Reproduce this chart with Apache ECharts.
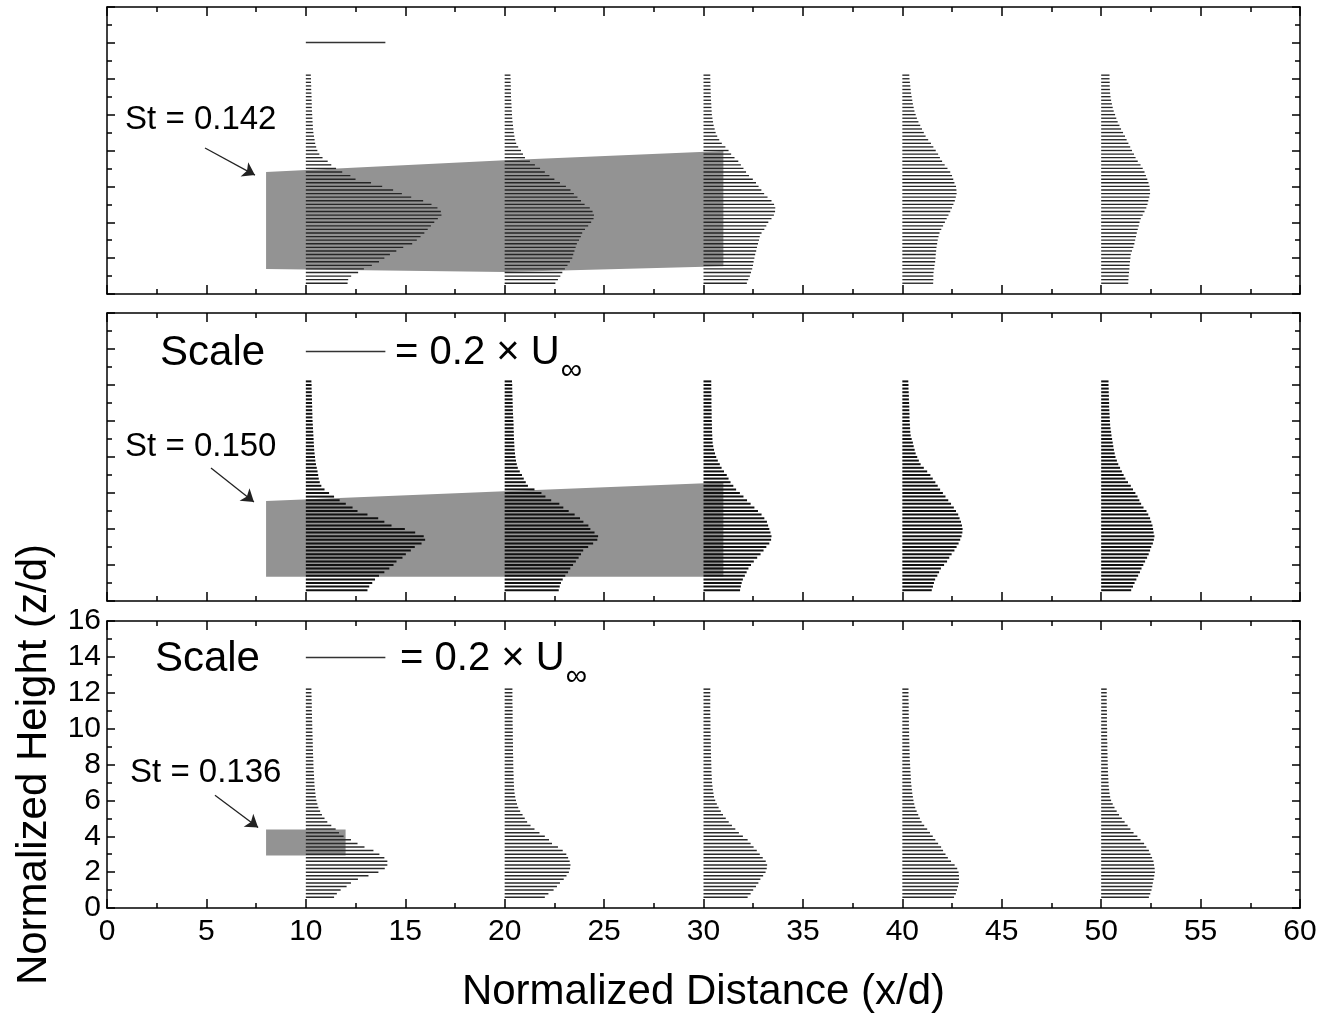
<!DOCTYPE html>
<html><head><meta charset="utf-8">
<script src="https://cdn.jsdelivr.net/npm/echarts@6/dist/echarts.min.js"></script>
<style>html,body{margin:0;padding:0;background:#fff}#chart{width:1325px;height:1014px}</style>
</head><body><div id="chart"></div>
<script>
// ---------------- DATA ----------------
const zLevels = [0.6,0.8,1.0,1.2,1.4,1.6,1.8,2.0,2.2,2.4,2.6,2.8,3.0,3.2,3.4,3.6,3.8,4.0,4.2,4.4,
  4.6,4.8,5.0,5.2,5.4,5.6,5.8,6.0,6.2,6.4,6.6,6.8,7.0,7.2,7.4,7.6,7.8,8.0,8.2,8.4,
  8.6,8.8,9.0,9.2,9.4,9.6,9.8,10.0,10.2,10.4,10.6,10.8,11.0,11.2,11.4,11.6,11.8,12.0,12.2];
const stations = [10,20,30,40,50];

// profile lengths in x/d units (scale: 4 x/d = 0.2 U_inf), ordered by zLevels
const top_x10 = [2.10,2.13,2.28,2.63,2.92,3.32,3.68,3.95,4.23,4.55,4.90,5.35,5.58,5.77,5.96,6.13,6.29,6.46,6.64,6.82,
  6.79,6.62,6.32,5.90,5.30,4.83,4.39,3.84,3.28,2.50,2.24,1.83,1.52,1.28,1.10,0.84,0.68,0.58,0.52,0.47,
  0.44,0.41,0.38,0.36,0.35,0.34,0.33,0.32,0.31,0.30,0.30,0.29,0.29,0.28,0.27,0.27,0.26,0.26,0.25];
const top_x20 = [2.55,2.68,2.80,2.90,3.03,3.16,3.28,3.40,3.45,3.51,3.57,3.63,3.74,3.83,3.90,4.04,4.20,4.35,4.47,4.49,
  4.42,4.28,4.02,3.84,3.66,3.48,3.31,3.08,2.78,2.50,2.25,2.02,1.78,1.52,1.27,1.02,0.92,0.82,0.68,0.58,
  0.53,0.49,0.46,0.44,0.42,0.40,0.38,0.37,0.36,0.35,0.34,0.33,0.32,0.32,0.31,0.31,0.30,0.30,0.29];
const top_x30 = [2.18,2.25,2.33,2.39,2.45,2.49,2.52,2.56,2.60,2.65,2.69,2.74,2.79,2.83,2.92,3.06,3.16,3.26,3.42,3.54,
  3.60,3.61,3.55,3.42,3.22,3.05,2.91,2.77,2.64,2.48,2.29,2.14,2.01,1.88,1.75,1.56,1.39,1.26,1.10,0.92,
  0.79,0.69,0.61,0.56,0.51,0.48,0.45,0.42,0.41,0.40,0.39,0.38,0.37,0.36,0.36,0.35,0.35,0.34,0.34];
const top_x40 = [1.55,1.56,1.56,1.57,1.60,1.62,1.65,1.67,1.68,1.70,1.72,1.75,1.78,1.82,1.87,1.96,2.05,2.14,2.23,2.32,
  2.41,2.50,2.57,2.64,2.69,2.73,2.72,2.70,2.62,2.56,2.50,2.41,2.27,2.13,2.00,1.89,1.80,1.68,1.56,1.44,
  1.30,1.17,1.08,0.99,0.90,0.81,0.73,0.67,0.61,0.57,0.53,0.50,0.47,0.44,0.42,0.40,0.38,0.36,0.35];
const top_x50 = [1.36,1.37,1.38,1.40,1.42,1.43,1.45,1.47,1.49,1.55,1.62,1.67,1.71,1.75,1.79,1.84,1.89,1.93,1.99,2.09,
  2.18,2.27,2.33,2.37,2.42,2.46,2.45,2.43,2.38,2.32,2.25,2.18,2.09,1.98,1.84,1.73,1.65,1.55,1.46,1.37,
  1.28,1.20,1.10,1.00,0.92,0.83,0.76,0.70,0.63,0.58,0.54,0.50,0.47,0.45,0.44,0.43,0.43,0.42,0.42];

const mid_x10 = [3.10,3.19,3.34,3.48,3.68,3.95,4.20,4.41,4.56,4.86,5.03,5.28,5.48,5.82,6.00,5.93,5.50,4.98,4.31,3.95,
  3.64,3.10,2.60,2.35,2.01,1.70,1.42,1.17,0.94,0.78,0.70,0.65,0.62,0.59,0.55,0.51,0.48,0.46,0.44,0.42,
  0.41,0.40,0.39,0.38,0.37,0.36,0.35,0.34,0.33,0.33,0.32,0.32,0.31,0.31,0.30,0.30,0.29,0.29,0.28];
const mid_x20 = [2.72,2.77,2.83,2.92,3.05,3.19,3.30,3.44,3.58,3.72,3.84,3.95,4.20,4.45,4.66,4.70,4.52,4.31,4.21,3.96,
  3.79,3.52,3.22,2.95,2.75,2.34,2.05,1.85,1.50,1.17,1.06,0.96,0.87,0.76,0.66,0.61,0.57,0.54,0.52,0.50,
  0.49,0.48,0.47,0.46,0.46,0.45,0.45,0.44,0.43,0.42,0.41,0.41,0.40,0.40,0.39,0.39,0.38,0.38,0.37];
const mid_x30 = [1.84,1.88,1.92,1.98,2.08,2.17,2.26,2.39,2.53,2.70,2.87,3.02,3.16,3.31,3.40,3.42,3.37,3.31,3.25,3.19,
  3.06,2.92,2.74,2.56,2.37,2.19,2.01,1.83,1.64,1.50,1.36,1.26,1.17,1.03,0.91,0.82,0.72,0.64,0.58,0.53,
  0.49,0.46,0.45,0.44,0.43,0.43,0.42,0.42,0.41,0.41,0.41,0.40,0.40,0.40,0.40,0.39,0.39,0.39,0.39];
const mid_x40 = [1.48,1.54,1.59,1.65,1.76,1.85,1.94,2.10,2.25,2.36,2.48,2.62,2.73,2.83,2.91,2.98,3.02,3.03,3.00,2.95,
  2.88,2.81,2.70,2.59,2.45,2.31,2.17,2.04,1.90,1.78,1.66,1.53,1.41,1.25,1.08,0.92,0.83,0.75,0.67,0.62,
  0.57,0.53,0.47,0.42,0.40,0.39,0.38,0.37,0.36,0.36,0.35,0.35,0.34,0.33,0.33,0.32,0.31,0.31,0.30];
const mid_x50 = [1.51,1.60,1.68,1.77,1.86,1.95,2.03,2.12,2.21,2.31,2.39,2.46,2.52,2.60,2.65,2.68,2.64,2.61,2.58,2.52,
  2.46,2.37,2.28,2.13,2.01,1.92,1.83,1.72,1.60,1.49,1.35,1.22,1.13,1.04,0.95,0.86,0.79,0.72,0.68,0.64,
  0.61,0.58,0.55,0.52,0.50,0.47,0.45,0.44,0.43,0.42,0.41,0.40,0.40,0.39,0.39,0.38,0.38,0.37,0.37];

const bot_x10 = [1.42,1.56,1.75,2.05,2.27,2.62,3.15,3.65,3.97,4.10,4.10,3.95,3.70,3.40,2.95,2.60,2.27,1.90,1.67,1.50,
  1.28,1.08,0.94,0.81,0.72,0.63,0.58,0.53,0.50,0.48,0.46,0.44,0.43,0.42,0.41,0.40,0.39,0.38,0.38,0.37,
  0.36,0.36,0.35,0.35,0.34,0.34,0.33,0.33,0.32,0.32,0.31,0.31,0.30,0.30,0.30,0.29,0.29,0.28,0.28];
const bot_x20 = [2.02,2.20,2.46,2.63,2.78,2.97,3.11,3.23,3.29,3.31,3.27,3.19,3.10,2.92,2.68,2.38,2.23,2.02,1.75,1.50,
  1.30,1.13,1.01,0.90,0.78,0.68,0.62,0.57,0.53,0.50,0.48,0.47,0.46,0.45,0.45,0.44,0.44,0.43,0.43,0.43,
  0.42,0.42,0.42,0.42,0.41,0.41,0.41,0.41,0.40,0.40,0.40,0.40,0.40,0.40,0.39,0.39,0.39,0.39,0.39];
const bot_x30 = [2.22,2.37,2.50,2.64,2.76,2.86,3.00,3.12,3.18,3.20,3.13,2.98,2.83,2.68,2.52,2.37,2.22,1.98,1.78,1.60,
  1.43,1.27,1.12,0.98,0.87,0.76,0.67,0.59,0.53,0.50,0.47,0.45,0.43,0.42,0.41,0.40,0.40,0.39,0.39,0.38,
  0.38,0.37,0.37,0.37,0.36,0.36,0.36,0.35,0.35,0.35,0.35,0.34,0.34,0.34,0.34,0.34,0.34,0.34,0.34];
const bot_x40 = [2.60,2.69,2.75,2.80,2.84,2.85,2.85,2.83,2.76,2.63,2.45,2.29,2.17,2.05,1.95,1.80,1.66,1.53,1.39,1.25,
  1.10,0.97,0.88,0.80,0.72,0.65,0.60,0.56,0.53,0.50,0.48,0.46,0.44,0.43,0.42,0.41,0.40,0.39,0.38,0.37,
  0.37,0.36,0.36,0.35,0.35,0.34,0.34,0.34,0.33,0.33,0.33,0.32,0.32,0.32,0.32,0.31,0.31,0.31,0.31];
const bot_x50 = [2.40,2.47,2.53,2.57,2.60,2.64,2.67,2.70,2.69,2.66,2.63,2.56,2.48,2.40,2.27,2.16,1.98,1.82,1.63,1.47,
  1.33,1.18,1.04,0.90,0.78,0.67,0.58,0.50,0.45,0.42,0.40,0.38,0.37,0.36,0.35,0.34,0.34,0.33,0.33,0.32,
  0.32,0.31,0.31,0.31,0.30,0.30,0.30,0.30,0.29,0.29,0.29,0.29,0.29,0.28,0.28,0.28,0.28,0.28,0.28];

// shaded regions (x/d, z/d)
const bandTopX = [8, 20, 31], bandTopLow = [1.40, 1.22, 1.55], bandTopHigh = [6.80, 7.45, 7.97];
const bandMidX = [8, 20, 31], bandMidLow = [1.35, 1.35, 1.35], bandMidHigh = [5.56, 6.10, 6.58];
const bandBotX = [8, 12],     bandBotLow = [2.92, 2.92],       bandBotHigh = [4.37, 4.37];

const stLabels = ['St = 0.142', 'St = 0.150', 'St = 0.136'];
const scaleWord = 'Scale';
const scaleEq = '= 0.2 × U';
const scaleSub = '∞';
const scaleLength = 4;   // x/d length equal to 0.2 U_inf
const xAxisTitle = 'Normalized Distance (x/d)';
const yAxisTitle = 'Normalized Height (z/d)';

// ---------------- LAYOUT / STYLE ----------------
const FONT = "'Liberation Sans', Arial, Helvetica, sans-serif";
const panels = [
  { top: 7,   height: 287, lw: 1.35, lc: '#262626',
    profiles: [top_x10, top_x20, top_x30, top_x40, top_x50],
    band: [bandTopX, bandTopLow, bandTopHigh],
    arrow: [[4.93, 8.14], [7.44, 6.63]], st: [0.91, 9.72], scaleZ: 14.05,
    scaleWordPos: null, scaleEqPos: null },
  { top: 313, height: 288, lw: 2.0, lc: '#111',
    profiles: [mid_x10, mid_x20, mid_x30, mid_x40, mid_x50],
    band: [bandMidX, bandMidLow, bandMidHigh],
    arrow: [[5.23, 7.39], [7.39, 5.50]], st: [0.91, 8.56], scaleZ: 13.89,
    scaleWordPos: [2.67, 13.78], scaleEqPos: [14.49, 13.78] },
  { top: 621, height: 287, lw: 1.5, lc: '#2a2a2a',
    profiles: [bot_x10, bot_x20, bot_x30, bot_x40, bot_x50],
    band: [bandBotX, bandBotLow, bandBotHigh],
    arrow: [[5.43, 6.29], [7.60, 4.49]], st: [1.16, 7.53], scaleZ: 13.99,
    scaleWordPos: [2.41, 13.88], scaleEqPos: [14.74, 13.88] }
];

const mctx = document.createElement('canvas').getContext('2d');
function textWidth(t, size) { mctx.font = size + 'px ' + FONT; return mctx.measureText(t).width; }

const grids = [], xAxes = [], yAxes = [], series = [];
const tickStyle = { color: '#000', width: 1.5 };

panels.forEach((p, i) => {
  const last = i === panels.length - 1;
  grids.push({ left: 107, right: 25, top: p.top, height: p.height, outerBoundsMode: 'none', containLabel: false });
  ['bottom', 'top'].forEach((pos, k) => {
    const showLab = last && k === 0;
    xAxes.push({
      gridIndex: i, type: 'value', min: 0, max: 60, interval: 5, position: pos,
      axisLine: { show: true, onZero: false, lineStyle: { color: '#000', width: 1.5 } },
      axisTick: { show: true, inside: true, length: 9, lineStyle: tickStyle },
      minorTick: { show: true, splitNumber: 2, length: 5, lineStyle: tickStyle },
      splitLine: { show: false }, minorSplitLine: { show: false },
      axisLabel: { show: showLab, color: '#000', fontSize: 30, fontFamily: FONT, margin: 9 },
      name: showLab ? xAxisTitle : '', nameLocation: 'middle', nameGap: 63,
      nameTextStyle: { color: '#000', fontSize: 42, fontFamily: FONT }
    });
  });
  ['left', 'right'].forEach((pos, k) => {
    const showLab = last && k === 0;
    yAxes.push({
      gridIndex: i, type: 'value', min: 0, max: 16, interval: 2, position: pos,
      axisLine: { show: true, onZero: false, lineStyle: { color: '#000', width: 1.5 } },
      axisTick: { show: true, inside: true, length: 8, lineStyle: tickStyle },
      minorTick: { show: true, splitNumber: 2, length: 5, lineStyle: tickStyle },
      splitLine: { show: false }, minorSplitLine: { show: false },
      axisLabel: { show: showLab, color: '#000', fontSize: 30, fontFamily: FONT, margin: 6 },
      name: showLab ? yAxisTitle : '', nameLocation: 'middle', nameGap: 52,
      nameTextStyle: { color: '#000', fontSize: 42, fontFamily: FONT }
    });
  });

  const xi = 2 * i, yi = 2 * i;
  // shaded band
  const [bx, blo, bhi] = p.band;
  series.push({
    type: 'custom', xAxisIndex: xi, yAxisIndex: yi, z: 1, silent: true, clip: false,
    data: bx.map((x, j) => [x, blo[j], bhi[j]]),
    renderItem: (params, api) => {
      if (params.dataIndex !== 0) return null;
      const pts = [];
      bx.forEach((x, j) => pts.push(api.coord([x, blo[j]])));
      for (let j = bx.length - 1; j >= 0; j--) pts.push(api.coord([bx[j], bhi[j]]));
      return { type: 'polygon', shape: { points: pts }, style: { fill: '#939393', stroke: null } };
    }
  });
  // velocity profiles
  const pdata = [];
  stations.forEach((s, si) => zLevels.forEach((z, j) => pdata.push([s, z, p.profiles[si][j]])));
  series.push({
    type: 'custom', xAxisIndex: xi, yAxisIndex: yi, z: 2, silent: true, clip: false,
    encode: { x: 0, y: 1 }, data: pdata,
    renderItem: (params, api) => {
      const x0 = api.value(0), z = api.value(1), L = api.value(2);
      const a = api.coord([x0, z]), b = api.coord([x0 + L, z]);
      return { type: 'line', shape: { x1: a[0], y1: a[1], x2: b[0], y2: b[1] },
        style: { stroke: p.lc, lineWidth: p.lw } };
    },
    markLine: {
      silent: true, animation: false, symbol: ['none', 'arrow'], symbolSize: 12,
      label: { show: false },
      lineStyle: { color: '#222', width: 1.3, type: 'solid' },
      data: [
        [{ coord: p.arrow[0] }, { coord: p.arrow[1] }],
        [{ coord: [stations[0], p.scaleZ], symbol: 'none' },
         { coord: [stations[0] + scaleLength, p.scaleZ], symbol: 'none', lineStyle: { color: '#333', width: 1.3 } }]
      ]
    }
  });
  // annotation texts
  const ann = [{ pos: p.st, kind: 'st', text: stLabels[i], size: 33 }];
  if (p.scaleWordPos) ann.push({ pos: p.scaleWordPos, kind: 'word', text: scaleWord, size: 42 });
  if (p.scaleEqPos) ann.push({ pos: p.scaleEqPos, kind: 'eq', text: scaleEq, size: 40 });
  series.push({
    type: 'custom', xAxisIndex: xi, yAxisIndex: yi, z: 3, silent: true, clip: false,
    data: ann.map(a => a.pos),
    renderItem: (params, api) => {
      const a = ann[params.dataIndex];
      const c = api.coord([api.value(0), api.value(1)]);
      const main = { type: 'text', x: c[0], y: c[1],
        style: { text: a.text, fontSize: a.size, fontFamily: FONT, fill: '#000', align: 'left', verticalAlign: 'middle' } };
      if (a.kind !== 'eq') return main;
      const w = textWidth(a.text, a.size);
      return { type: 'group', children: [main,
        { type: 'text', x: c[0] + w + 1, y: c[1] + 18,
          style: { text: scaleSub, fontSize: 30, fontFamily: FONT, fill: '#000', align: 'left', verticalAlign: 'middle' } }] };
    }
  });
});

const chart = echarts.init(document.getElementById('chart'), null, { renderer: 'canvas' });
chart.setOption({
  animation: false, backgroundColor: '#fff',
  grid: grids, xAxis: xAxes, yAxis: yAxes, series: series
});
</script></body></html>
